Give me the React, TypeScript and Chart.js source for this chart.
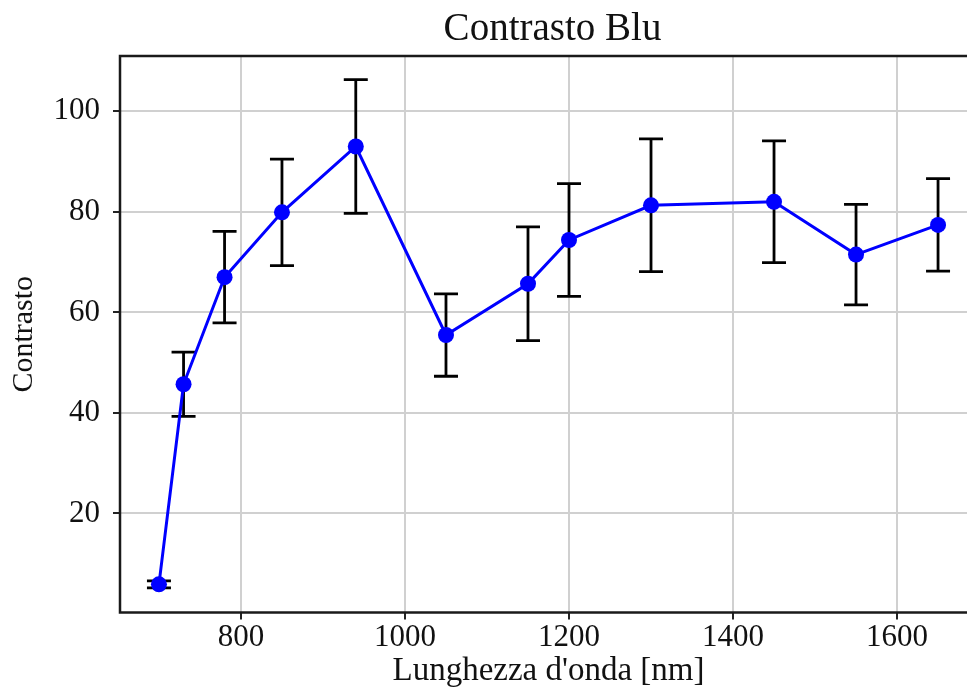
import React, { useEffect, useRef } from "react";
import { Chart, registerables } from "chart.js";

Chart.register(...registerables);

const wavelengths = [700, 730, 780, 850, 940, 1050, 1150, 1200, 1300, 1450, 1550, 1650];
const contrast = [5.9, 45.7, 67.0, 79.9, 93.0, 55.5, 65.7, 74.4, 81.3, 82.0, 71.5, 77.4];
const errors = [0.7, 6.4, 9.1, 10.6, 13.3, 8.2, 11.3, 11.2, 13.2, 12.1, 10.0, 9.2];
const xTicks = [800, 1000, 1200, 1400, 1600];
const yTicks = [20, 40, 60, 80, 100];

const titleText = "Contrasto Blu";
const xLabel = "Lunghezza d'onda [nm]";
const yLabel = "Contrasto";

const FONT = "'Liberation Serif', 'Times New Roman', serif";

export default function App() {
  const ref = useRef<HTMLCanvasElement | null>(null);

  useEffect(() => {
    if (!ref.current) return;
    const errorBars = {
      id: "errorBars",
      beforeDatasetsDraw(chart: any) {
        const { ctx, scales } = chart;
        const xs = scales.x;
        const ys = scales.y;
        ctx.save();
        ctx.strokeStyle = "#000000";
        ctx.lineWidth = 2.8;
        for (let i = 0; i < wavelengths.length; i++) {
          const x = xs.getPixelForValue(wavelengths[i]);
          const yt = ys.getPixelForValue(contrast[i] + errors[i]);
          const yb = ys.getPixelForValue(contrast[i] - errors[i]);
          ctx.beginPath();
          ctx.moveTo(x, yt);
          ctx.lineTo(x, yb);
          ctx.moveTo(x - 12, yt);
          ctx.lineTo(x + 12, yt);
          ctx.moveTo(x - 12, yb);
          ctx.lineTo(x + 12, yb);
          ctx.stroke();
        }
        ctx.restore();
      },
    };
    const frame = {
      id: "frame",
      afterDraw(chart: any) {
        const { ctx, chartArea } = chart;
        ctx.save();
        ctx.strokeStyle = "#1a1a1a";
        ctx.lineWidth = 2.5;
        ctx.strokeRect(
          chartArea.left,
          chartArea.top,
          chartArea.right - chartArea.left,
          chartArea.bottom - chartArea.top
        );
        ctx.fillStyle = "#111111";
        ctx.font = `39px ${FONT}`;
        ctx.textAlign = "center";
        ctx.textBaseline = "alphabetic";
        ctx.fillText(titleText, (chartArea.left + chartArea.right) / 2 + 4, 40);
        ctx.restore();
      },
    };

    const chart = new Chart(ref.current, {
      type: "line",
      data: {
        datasets: [
          {
            data: wavelengths.map((w, i) => ({ x: w, y: contrast[i] })),
            borderColor: "#0000ff",
            backgroundColor: "#0000ff",
            borderWidth: 3,
            pointRadius: 8,
            pointBorderWidth: 0,
            pointBackgroundColor: "#0000ff",
            tension: 0,
          },
        ],
      },
      options: {
        animation: false,
        responsive: false,
        layout: { padding: { left: 0, top: 56, right: 23, bottom: 0 } },
        plugins: {
          legend: { display: false },
          tooltip: { enabled: false },
          title: { display: false },
        },
        scales: {
          x: {
            type: "linear",
            min: 652.5,
            max: 1697.5,
            afterFit(scale: any) {
              scale.height = 76.5;
            },
            afterBuildTicks(scale: any) {
              scale.ticks = xTicks.map((v) => ({ value: v }));
            },
            ticks: {
              includeBounds: false,
              font: { family: FONT, size: 31 },
              color: "#111111",
              padding: 0,
              maxRotation: 0,
              callback: (v: any) => String(v),
            },
            grid: {
              color: "#d0d0d0",
              lineWidth: 2,
              tickLength: 7,
              tickColor: "#222222",
              tickWidth: 2,
            },
            border: { display: false },
            title: {
              display: true,
              text: xLabel,
              font: { family: FONT, size: 33, lineHeight: 1.0 },
              color: "#111111",
              padding: { top: 0, bottom: 1 },
            },
          },
          y: {
            type: "linear",
            min: 0.3,
            max: 111,
            afterFit(scale: any) {
              scale.width = 120;
            },
            afterBuildTicks(scale: any) {
              scale.ticks = yTicks.map((v) => ({ value: v }));
            },
            ticks: {
              includeBounds: false,
              font: { family: FONT, size: 31 },
              color: "#111111",
              padding: 13,
              callback: (v: any) => String(v),
            },
            grid: {
              color: "#d0d0d0",
              lineWidth: 2,
              tickLength: 7,
              tickColor: "#222222",
              tickWidth: 2,
            },
            border: { display: false },
            title: {
              display: true,
              text: yLabel,
              font: { family: FONT, size: 30 },
              color: "#111111",
              padding: { top: 6, bottom: 0 },
            },
          },
        },
      },
      plugins: [errorBars, frame],
    });
    return () => chart.destroy();
  }, []);

  return (
    <div
      style={{
        position: "absolute",
        left: 0,
        top: 0,
        width: 967,
        height: 689,
        overflow: "hidden",
        background: "#ffffff",
      }}
    >
      <canvas ref={ref} width={1000} height={689} style={{ display: "block" }} />
    </div>
  );
}
